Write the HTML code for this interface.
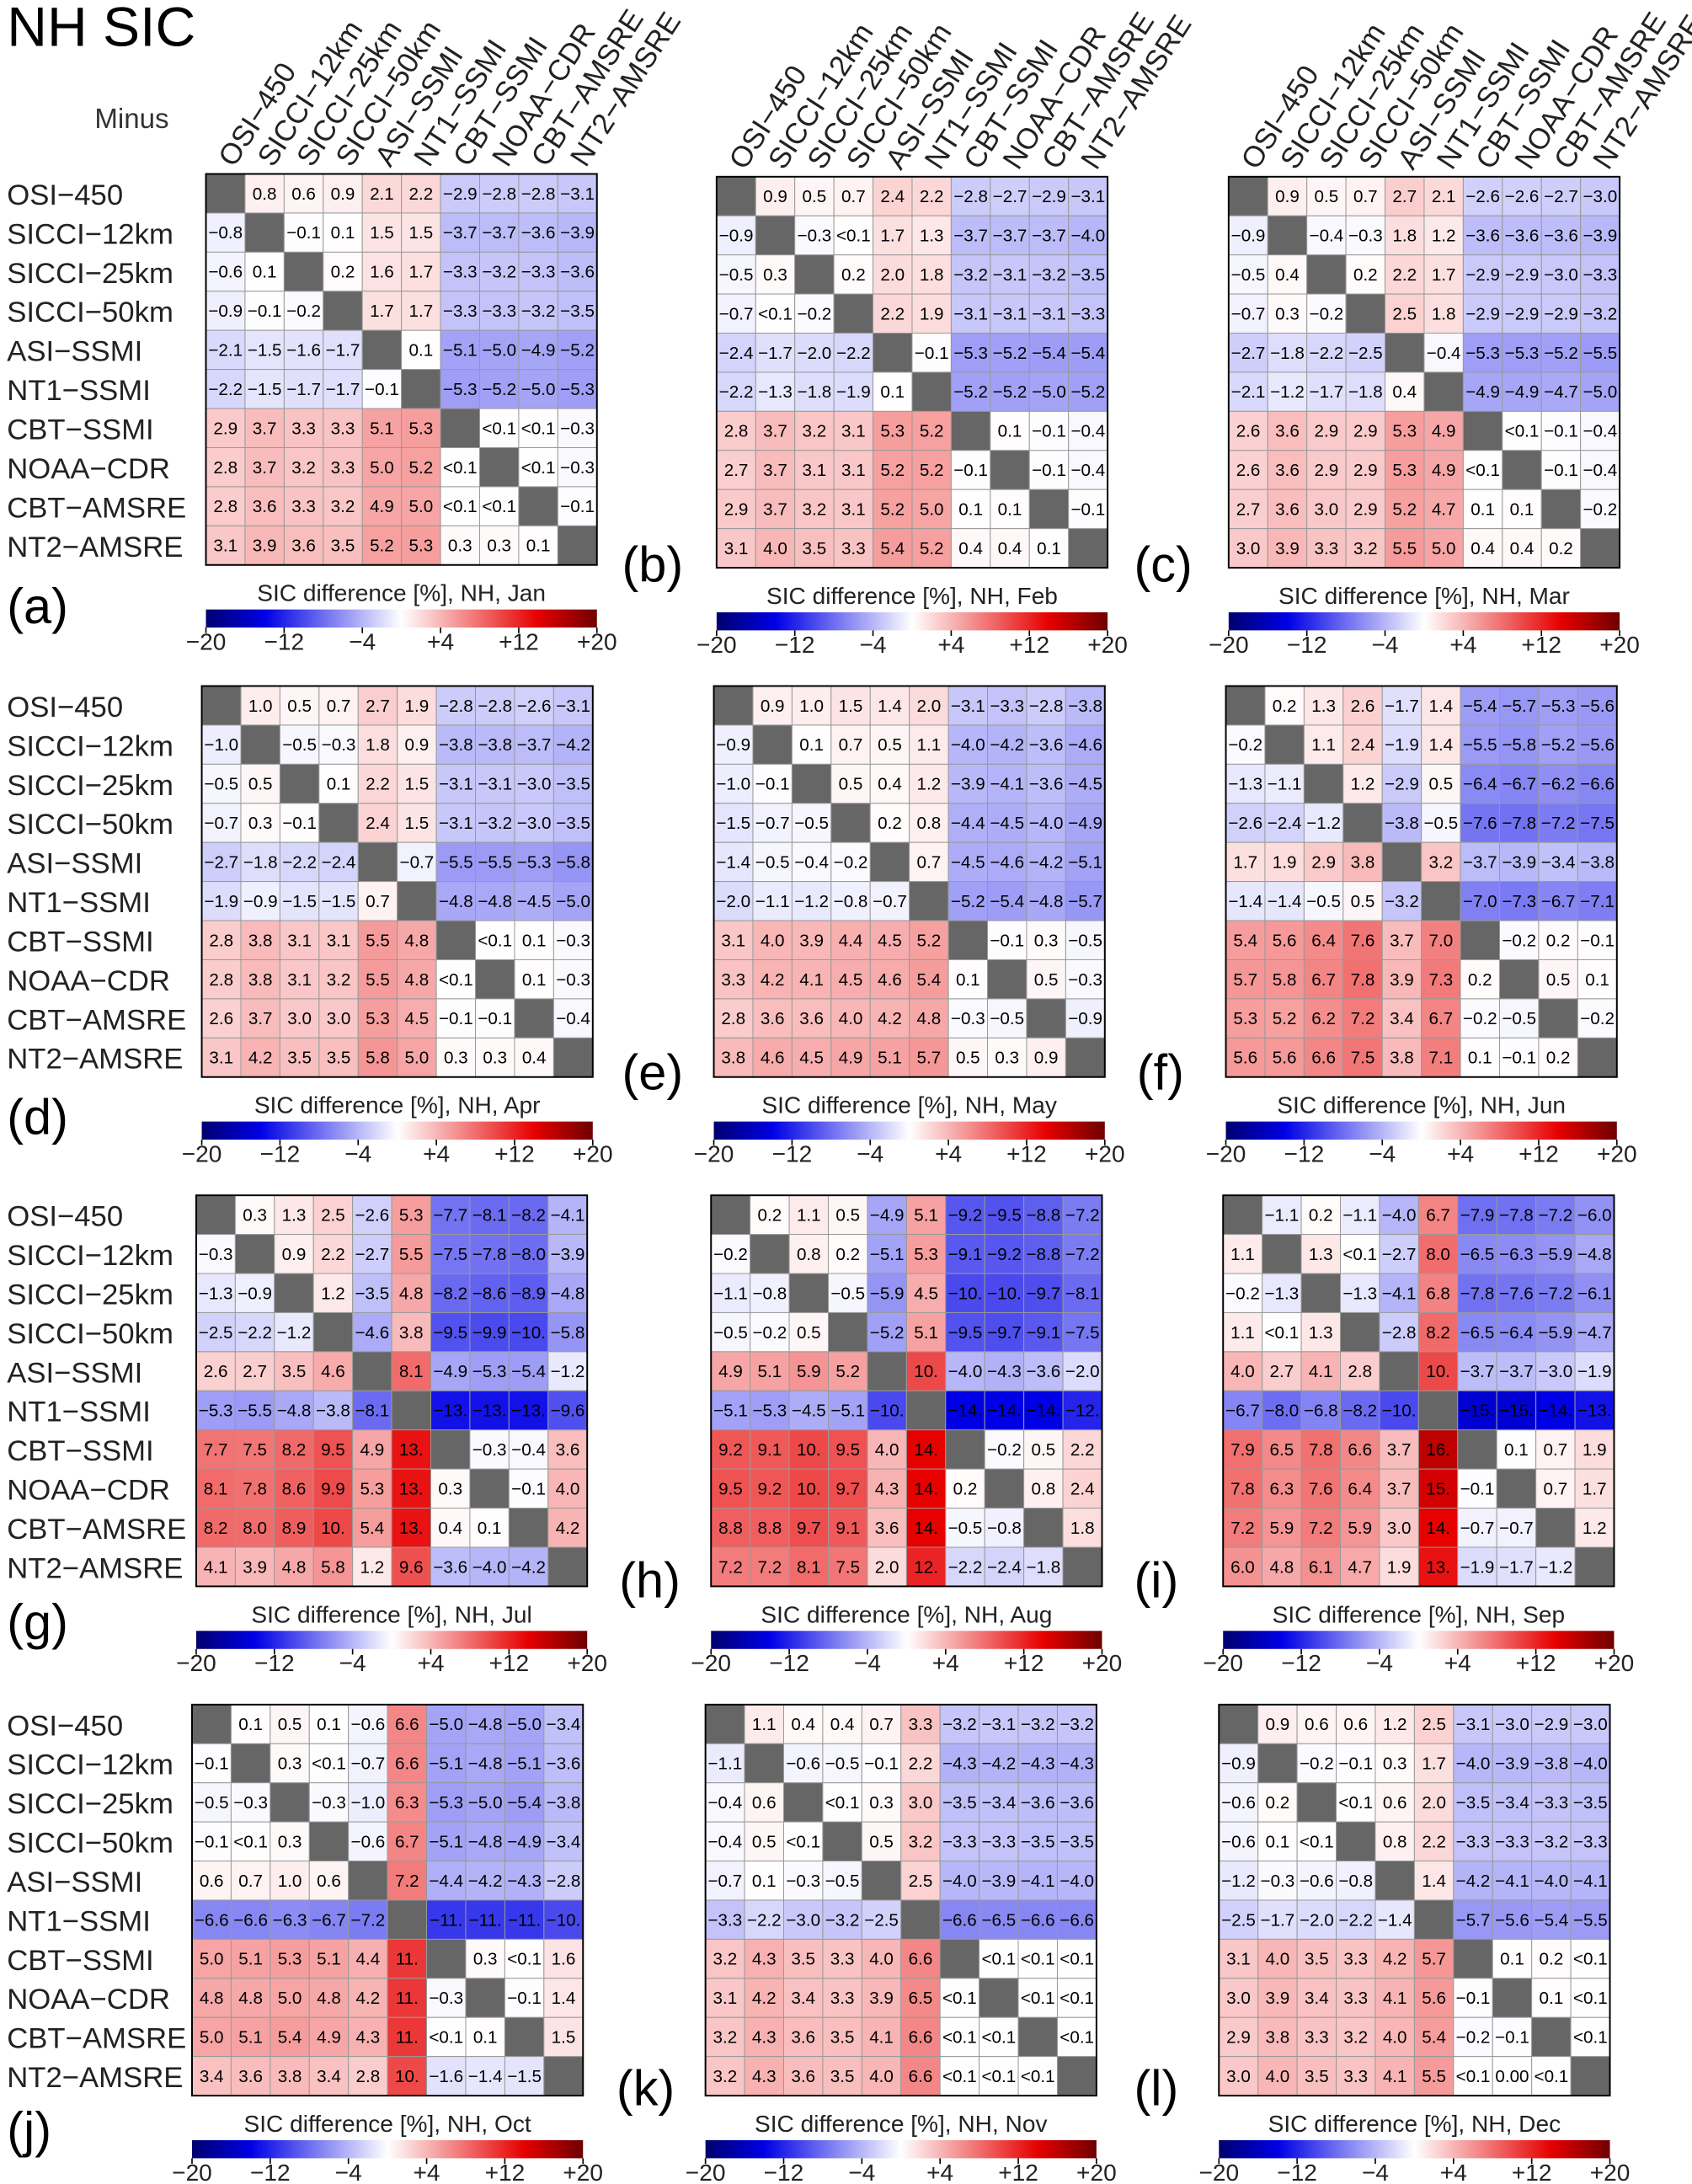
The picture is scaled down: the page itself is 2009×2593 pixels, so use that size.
<!DOCTYPE html>
<html><head><meta charset="utf-8">
<style>
html,body{margin:0;padding:0;background:#fff;}
svg{display:block;font-family:"Liberation Sans",sans-serif;}
</style></head>
<body>
<svg id="fig" width="2009" height="2593" viewBox="0 0 1216 1569.5" preserveAspectRatio="none" xmlns="http://www.w3.org/2000/svg">
<defs>
<linearGradient id="cbar" x1="0" x2="1" y1="0" y2="0">
<stop offset="0" stop-color="#00006e"/><stop offset="0.15" stop-color="#0000e6"/>
<stop offset="0.5" stop-color="#ffffff"/><stop offset="0.85" stop-color="#e60000"/>
<stop offset="1" stop-color="#6e0000"/>
</linearGradient>
</defs>
<text x="5" y="33" font-size="40">NH SIC</text>
<text x="68" y="92" font-size="20" fill="#333">Minus</text>
</svg>
<script>
const products=["OSI−450","SICCI−12km","SICCI−25km","SICCI−50km","ASI−SSMI","NT1−SSMI","CBT−SSMI","NOAA−CDR","CBT−AMSRE","NT2−AMSRE"];
const months=["Jan","Feb","Mar","Apr","May","Jun","Jul","Aug","Sep","Oct","Nov","Dec"];
const letters=["a","b","c","d","e","f","g","h","i","j","k","l"];
const cbTicks=["−20","−12","−4","+4","+12","+20"];
const cbTickVals=[-20,-12,-4,4,12,20];
const jan=[
"_,0.8,0.6,0.9,2.1,2.2,-2.9,-2.8,-2.8,-3.1","-0.8,_,-0.1,0.1,1.5,1.5,-3.7,-3.7,-3.6,-3.9","-0.6,0.1,_,0.2,1.6,1.7,-3.3,-3.2,-3.3,-3.6","-0.9,-0.1,-0.2,_,1.7,1.7,-3.3,-3.3,-3.2,-3.5","-2.1,-1.5,-1.6,-1.7,_,0.1,-5.1,-5.0,-4.9,-5.2","-2.2,-1.5,-1.7,-1.7,-0.1,_,-5.3,-5.2,-5.0,-5.3","2.9,3.7,3.3,3.3,5.1,5.3,_,<0.1,<0.1,-0.3","2.8,3.7,3.2,3.3,5.0,5.2,<0.1,_,<0.1,-0.3","2.8,3.6,3.3,3.2,4.9,5.0,<0.1,<0.1,_,-0.1","3.1,3.9,3.6,3.5,5.2,5.3,0.3,0.3,0.1,_"];
const feb=[
"_,0.9,0.5,0.7,2.4,2.2,-2.8,-2.7,-2.9,-3.1","-0.9,_,-0.3,<0.1,1.7,1.3,-3.7,-3.7,-3.7,-4.0","-0.5,0.3,_,0.2,2.0,1.8,-3.2,-3.1,-3.2,-3.5","-0.7,<0.1,-0.2,_,2.2,1.9,-3.1,-3.1,-3.1,-3.3","-2.4,-1.7,-2.0,-2.2,_,-0.1,-5.3,-5.2,-5.4,-5.4","-2.2,-1.3,-1.8,-1.9,0.1,_,-5.2,-5.2,-5.0,-5.2","2.8,3.7,3.2,3.1,5.3,5.2,_,0.1,-0.1,-0.4","2.7,3.7,3.1,3.1,5.2,5.2,-0.1,_,-0.1,-0.4","2.9,3.7,3.2,3.1,5.2,5.0,0.1,0.1,_,-0.1","3.1,4.0,3.5,3.3,5.4,5.2,0.4,0.4,0.1,_"];
const mar=[
"_,0.9,0.5,0.7,2.7,2.1,-2.6,-2.6,-2.7,-3.0","-0.9,_,-0.4,-0.3,1.8,1.2,-3.6,-3.6,-3.6,-3.9","-0.5,0.4,_,0.2,2.2,1.7,-2.9,-2.9,-3.0,-3.3","-0.7,0.3,-0.2,_,2.5,1.8,-2.9,-2.9,-2.9,-3.2","-2.7,-1.8,-2.2,-2.5,_,-0.4,-5.3,-5.3,-5.2,-5.5","-2.1,-1.2,-1.7,-1.8,0.4,_,-4.9,-4.9,-4.7,-5.0","2.6,3.6,2.9,2.9,5.3,4.9,_,<0.1,-0.1,-0.4","2.6,3.6,2.9,2.9,5.3,4.9,<0.1,_,-0.1,-0.4","2.7,3.6,3.0,2.9,5.2,4.7,0.1,0.1,_,-0.2","3.0,3.9,3.3,3.2,5.5,5.0,0.4,0.4,0.2,_"];
const apr=[
"_,1.0,0.5,0.7,2.7,1.9,-2.8,-2.8,-2.6,-3.1","-1.0,_,-0.5,-0.3,1.8,0.9,-3.8,-3.8,-3.7,-4.2","-0.5,0.5,_,0.1,2.2,1.5,-3.1,-3.1,-3.0,-3.5","-0.7,0.3,-0.1,_,2.4,1.5,-3.1,-3.2,-3.0,-3.5","-2.7,-1.8,-2.2,-2.4,_,-0.7,-5.5,-5.5,-5.3,-5.8","-1.9,-0.9,-1.5,-1.5,0.7,_,-4.8,-4.8,-4.5,-5.0","2.8,3.8,3.1,3.1,5.5,4.8,_,<0.1,0.1,-0.3","2.8,3.8,3.1,3.2,5.5,4.8,<0.1,_,0.1,-0.3","2.6,3.7,3.0,3.0,5.3,4.5,-0.1,-0.1,_,-0.4","3.1,4.2,3.5,3.5,5.8,5.0,0.3,0.3,0.4,_"];
const may=[
"_,0.9,1.0,1.5,1.4,2.0,-3.1,-3.3,-2.8,-3.8","-0.9,_,0.1,0.7,0.5,1.1,-4.0,-4.2,-3.6,-4.6","-1.0,-0.1,_,0.5,0.4,1.2,-3.9,-4.1,-3.6,-4.5","-1.5,-0.7,-0.5,_,0.2,0.8,-4.4,-4.5,-4.0,-4.9","-1.4,-0.5,-0.4,-0.2,_,0.7,-4.5,-4.6,-4.2,-5.1","-2.0,-1.1,-1.2,-0.8,-0.7,_,-5.2,-5.4,-4.8,-5.7","3.1,4.0,3.9,4.4,4.5,5.2,_,-0.1,0.3,-0.5","3.3,4.2,4.1,4.5,4.6,5.4,0.1,_,0.5,-0.3","2.8,3.6,3.6,4.0,4.2,4.8,-0.3,-0.5,_,-0.9","3.8,4.6,4.5,4.9,5.1,5.7,0.5,0.3,0.9,_"];
const jun=[
"_,0.2,1.3,2.6,-1.7,1.4,-5.4,-5.7,-5.3,-5.6","-0.2,_,1.1,2.4,-1.9,1.4,-5.5,-5.8,-5.2,-5.6","-1.3,-1.1,_,1.2,-2.9,0.5,-6.4,-6.7,-6.2,-6.6","-2.6,-2.4,-1.2,_,-3.8,-0.5,-7.6,-7.8,-7.2,-7.5","1.7,1.9,2.9,3.8,_,3.2,-3.7,-3.9,-3.4,-3.8","-1.4,-1.4,-0.5,0.5,-3.2,_,-7.0,-7.3,-6.7,-7.1","5.4,5.6,6.4,7.6,3.7,7.0,_,-0.2,0.2,-0.1","5.7,5.8,6.7,7.8,3.9,7.3,0.2,_,0.5,0.1","5.3,5.2,6.2,7.2,3.4,6.7,-0.2,-0.5,_,-0.2","5.6,5.6,6.6,7.5,3.8,7.1,0.1,-0.1,0.2,_"];
const jul=[
"_,0.3,1.3,2.5,-2.6,5.3,-7.7,-8.1,-8.2,-4.1","-0.3,_,0.9,2.2,-2.7,5.5,-7.5,-7.8,-8.0,-3.9","-1.3,-0.9,_,1.2,-3.5,4.8,-8.2,-8.6,-8.9,-4.8","-2.5,-2.2,-1.2,_,-4.6,3.8,-9.5,-9.9,-10.,-5.8","2.6,2.7,3.5,4.6,_,8.1,-4.9,-5.3,-5.4,-1.2","-5.3,-5.5,-4.8,-3.8,-8.1,_,-13.,-13.,-13.,-9.6","7.7,7.5,8.2,9.5,4.9,13.,_,-0.3,-0.4,3.6","8.1,7.8,8.6,9.9,5.3,13.,0.3,_,-0.1,4.0","8.2,8.0,8.9,10.,5.4,13.,0.4,0.1,_,4.2","4.1,3.9,4.8,5.8,1.2,9.6,-3.6,-4.0,-4.2,_"];
const aug=[
"_,0.2,1.1,0.5,-4.9,5.1,-9.2,-9.5,-8.8,-7.2","-0.2,_,0.8,0.2,-5.1,5.3,-9.1,-9.2,-8.8,-7.2","-1.1,-0.8,_,-0.5,-5.9,4.5,-10.,-10.,-9.7,-8.1","-0.5,-0.2,0.5,_,-5.2,5.1,-9.5,-9.7,-9.1,-7.5","4.9,5.1,5.9,5.2,_,10.,-4.0,-4.3,-3.6,-2.0","-5.1,-5.3,-4.5,-5.1,-10.,_,-14.,-14.,-14.,-12.","9.2,9.1,10.,9.5,4.0,14.,_,-0.2,0.5,2.2","9.5,9.2,10.,9.7,4.3,14.,0.2,_,0.8,2.4","8.8,8.8,9.7,9.1,3.6,14.,-0.5,-0.8,_,1.8","7.2,7.2,8.1,7.5,2.0,12.,-2.2,-2.4,-1.8,_"];
const sep=[
"_,-1.1,0.2,-1.1,-4.0,6.7,-7.9,-7.8,-7.2,-6.0","1.1,_,1.3,<0.1,-2.7,8.0,-6.5,-6.3,-5.9,-4.8","-0.2,-1.3,_,-1.3,-4.1,6.8,-7.8,-7.6,-7.2,-6.1","1.1,<0.1,1.3,_,-2.8,8.2,-6.5,-6.4,-5.9,-4.7","4.0,2.7,4.1,2.8,_,10.,-3.7,-3.7,-3.0,-1.9","-6.7,-8.0,-6.8,-8.2,-10.,_,-15.,-15.,-14.,-13.","7.9,6.5,7.8,6.6,3.7,16.,_,0.1,0.7,1.9","7.8,6.3,7.6,6.4,3.7,15.,-0.1,_,0.7,1.7","7.2,5.9,7.2,5.9,3.0,14.,-0.7,-0.7,_,1.2","6.0,4.8,6.1,4.7,1.9,13.,-1.9,-1.7,-1.2,_"];
const oct=[
"_,0.1,0.5,0.1,-0.6,6.6,-5.0,-4.8,-5.0,-3.4","-0.1,_,0.3,<0.1,-0.7,6.6,-5.1,-4.8,-5.1,-3.6","-0.5,-0.3,_,-0.3,-1.0,6.3,-5.3,-5.0,-5.4,-3.8","-0.1,<0.1,0.3,_,-0.6,6.7,-5.1,-4.8,-4.9,-3.4","0.6,0.7,1.0,0.6,_,7.2,-4.4,-4.2,-4.3,-2.8","-6.6,-6.6,-6.3,-6.7,-7.2,_,-11.,-11.,-11.,-10.","5.0,5.1,5.3,5.1,4.4,11.,_,0.3,<0.1,1.6","4.8,4.8,5.0,4.8,4.2,11.,-0.3,_,-0.1,1.4","5.0,5.1,5.4,4.9,4.3,11.,<0.1,0.1,_,1.5","3.4,3.6,3.8,3.4,2.8,10.,-1.6,-1.4,-1.5,_"];
const nov=[
"_,1.1,0.4,0.4,0.7,3.3,-3.2,-3.1,-3.2,-3.2","-1.1,_,-0.6,-0.5,-0.1,2.2,-4.3,-4.2,-4.3,-4.3","-0.4,0.6,_,<0.1,0.3,3.0,-3.5,-3.4,-3.6,-3.6","-0.4,0.5,<0.1,_,0.5,3.2,-3.3,-3.3,-3.5,-3.5","-0.7,0.1,-0.3,-0.5,_,2.5,-4.0,-3.9,-4.1,-4.0","-3.3,-2.2,-3.0,-3.2,-2.5,_,-6.6,-6.5,-6.6,-6.6","3.2,4.3,3.5,3.3,4.0,6.6,_,<0.1,<0.1,<0.1","3.1,4.2,3.4,3.3,3.9,6.5,<0.1,_,<0.1,<0.1","3.2,4.3,3.6,3.5,4.1,6.6,<0.1,<0.1,_,<0.1","3.2,4.3,3.6,3.5,4.0,6.6,<0.1,<0.1,<0.1,_"];
const dec=[
"_,0.9,0.6,0.6,1.2,2.5,-3.1,-3.0,-2.9,-3.0","-0.9,_,-0.2,-0.1,0.3,1.7,-4.0,-3.9,-3.8,-4.0","-0.6,0.2,_,<0.1,0.6,2.0,-3.5,-3.4,-3.3,-3.5","-0.6,0.1,<0.1,_,0.8,2.2,-3.3,-3.3,-3.2,-3.3","-1.2,-0.3,-0.6,-0.8,_,1.4,-4.2,-4.1,-4.0,-4.1","-2.5,-1.7,-2.0,-2.2,-1.4,_,-5.7,-5.6,-5.4,-5.5","3.1,4.0,3.5,3.3,4.2,5.7,_,0.1,0.2,<0.1","3.0,3.9,3.4,3.3,4.1,5.6,-0.1,_,0.1,<0.1","2.9,3.8,3.3,3.2,4.0,5.4,-0.2,-0.1,_,<0.1","3.0,4.0,3.5,3.3,4.1,5.5,<0.1,0.00,<0.1,_"];
const monthData=[jan,feb,mar,apr,may,jun,jul,aug,sep,oct,nov,dec];

const NS="http://www.w3.org/2000/svg";
const svg=document.getElementById('fig');
const origins=[[148,125],[515,127],[883,127],[145,493],[513,493],[881,493],[141,859],[511,859],[879,859],[138,1225],[507,1225],[876,1225]];
const letterPos=[[5,448],[447,418],[815,418],[5,815],[447,783],[817,783],[5,1178],[445,1148],[815,1148],[5,1543],[443,1513],[815,1513]];
const SZ=281, N=10, C=SZ/N;
function mk(tag,attrs,parent){const e=document.createElementNS(NS,tag);for(const k in attrs)e.setAttribute(k,attrs[k]);(parent||svg).appendChild(e);return e;}
function parseVal(s){if(s.startsWith('<'))return 0.05;return parseFloat(s);}
function colorOf(v){
 const stops=[[-20,[0,0,110]],[-14,[0,0,230]],[0,[255,255,255]],[14,[230,0,0]],[20,[110,0,0]]];
 v=Math.max(-20,Math.min(20,v));
 for(let i=0;i<stops.length-1;i++){const a=stops[i],b=stops[i+1];if(v>=a[0]&&v<=b[0]){const t=(v-a[0])/(b[0]-a[0]);const c=a[1].map((x,j)=>Math.round(x+(b[1][j]-x)*t));return `rgb(${c})`;}}
 return '#fff';
}
function xCell(x0,j){return x0+j*C;}
function yCell(y0,i){return y0+i*C;}
function cbX(x0,v){return x0+(v+20)/40*SZ;}
function fmt(s){return s.replace(/^-/,'−');}

monthData.forEach((rows,p)=>{
 const [x0,y0]=origins[p];
 const g=mk('g',{});
 
 
 rows.forEach((row,i)=>{
  row.split(',').forEach((s,j)=>{
   const diag=(s==='_');
   const r=mk('rect',{x:xCell(x0,j),y:yCell(y0,i),width:C,height:C,fill:diag?'#666':colorOf(parseVal(s)),stroke:'#999','stroke-width':0.6},g);
   
   
   if(!diag){
    const t=mk('text',{x:xCell(x0,j)+C/2,y:yCell(y0,i)+C/2+4.3,'font-size':12.5,'text-anchor':'middle',fill:'#000'},g);
    
    
    t.textContent=fmt(s);
   }
  });
 });
 mk('rect',{x:x0,y:y0,width:SZ,height:SZ,fill:'none',stroke:'#000','stroke-width':1.2},g);
 if(p%3===0){
  products.forEach((n,i)=>{
   const t=mk('text',{x:5,y:yCell(y0,i)+C/2+8,'font-size':21,fill:'#222'});
   
   
   t.textContent=n;
  });
 }
 if(p<3){
  products.forEach((n,j)=>{
   const cx=xCell(x0,j)+C/2+6, cy=y0-4;
   const t=mk('text',{x:cx,y:cy,'font-size':21,fill:'#222',transform:`rotate(-57 ${cx} ${cy})`});
   
   
   t.textContent=n;
  });
 }
 const yb=y0+SZ;
 const ct=mk('text',{x:x0+SZ/2,y:yb+26,'font-size':17,'text-anchor':'middle',fill:'#222'});
 
 
 ct.textContent='SIC  difference  [%],  NH, '+months[p];
 const cb=mk('rect',{x:x0,y:yb+32,width:SZ,height:13,fill:'url(#cbar)'});
 
 
 cbTickVals.forEach((v,k)=>{
  const tx=cbX(x0,v);
  mk('line',{x1:tx,x2:tx,y1:yb+45,y2:yb+49,stroke:'#000','stroke-width':1});
  const t=mk('text',{x:tx,y:yb+61,'font-size':17,'text-anchor':'middle',fill:'#222'});
  
  
  t.textContent=cbTicks[k];
 });
 const [lx,ly]=letterPos[p];
 const lt=mk('text',{x:lx,y:ly,'font-size':36,fill:'#000'});
 
 
 lt.textContent='('+letters[p]+')';
});
</script>
</body></html>
